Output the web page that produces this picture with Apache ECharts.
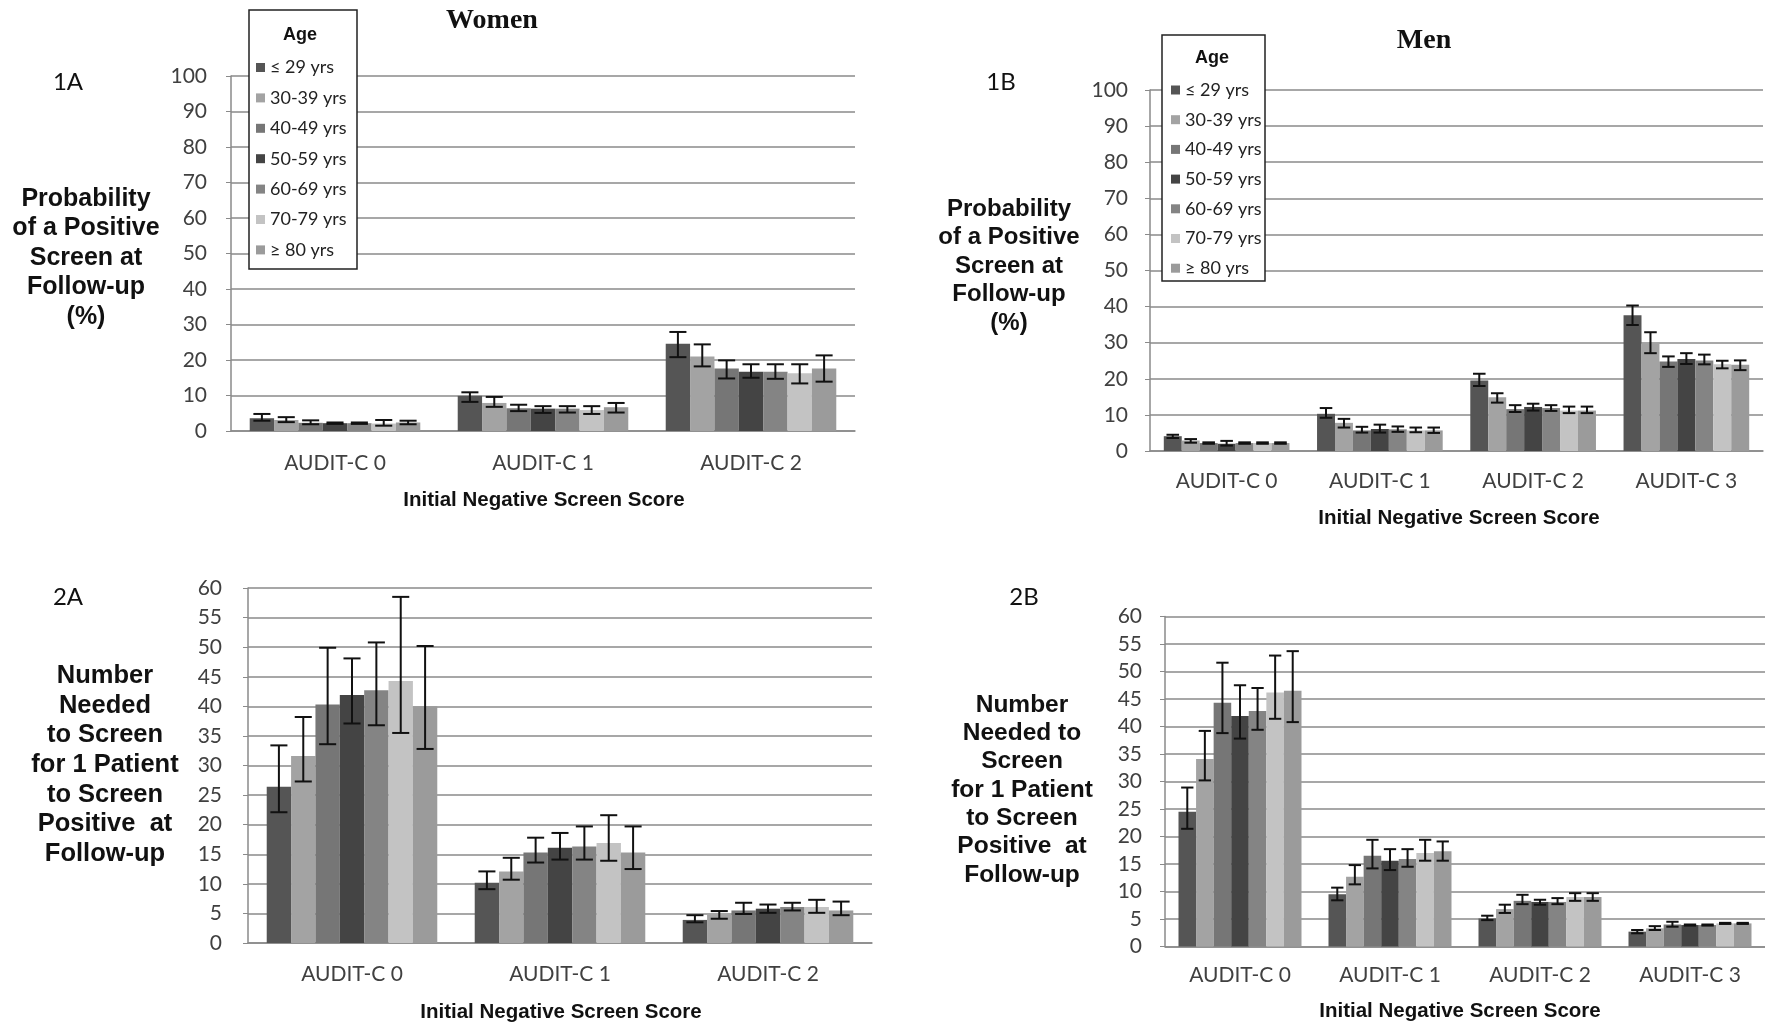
<!DOCTYPE html>
<html><head><meta charset="utf-8">
<script src="https://cdn.jsdelivr.net/npm/echarts@6/dist/echarts.min.js"></script>
<style>html,body{margin:0;padding:0;background:#fff}#c{width:1765px;height:1026px}</style>
</head><body><div id="c"></div><script>
// ---------- DATA ----------
const categoriesWomen = ['AUDIT-C 0', 'AUDIT-C 1', 'AUDIT-C 2'];
const categoriesMen = ['AUDIT-C 0', 'AUDIT-C 1', 'AUDIT-C 2', 'AUDIT-C 3'];
const ageGroups = ['≤ 29 yrs', '30-39 yrs', '40-49 yrs', '50-59 yrs', '60-69 yrs', '70-79 yrs', '≥ 80 yrs'];
const probTicksMax = 100, probTickStep = 10;
const nntTicksMax = 60, nntTickStep = 5;

// 1A Women: probability of positive screen (%), one row per age group
const womenProb = [[3.6, 9.9, 24.6], [3.1, 7.9, 21.0], [2.3, 6.4, 17.6], [2.2, 6.3, 16.7], [2.2, 6.3, 16.7], [2.1, 5.9, 16.3], [2.4, 6.7, 17.6]];
const womenProbLow = [[2.9, 8.2, 20.8], [2.5, 6.8, 18.2], [1.9, 5.6, 14.8], [2.0, 5.1, 15.0], [2.0, 5.2, 14.7], [1.5, 4.8, 13.4], [1.9, 5.2, 13.9]];
const womenProbHigh = [[4.8, 10.9, 27.9], [3.9, 9.6, 24.4], [3.0, 7.4, 19.9], [2.4, 7.0, 18.8], [2.4, 7.0, 18.8], [3.1, 7.0, 18.8], [2.9, 7.9, 21.3]];

// 1B Men: probability of positive screen (%)
const menProb = [[4.1, 10.3, 19.5, 37.6], [2.9, 7.8, 14.9, 30.0], [2.2, 5.7, 11.6, 24.8], [2.0, 6.1, 12.2, 25.5], [2.2, 6.0, 11.9, 25.1], [2.2, 5.7, 11.2, 24.0], [2.2, 5.7, 11.2, 23.9]];
const menProbLow = [[3.6, 9.2, 18.0, 34.9], [2.3, 6.5, 13.4, 27.1], [2.0, 5.1, 10.8, 23.3], [1.5, 5.1, 11.2, 24.1], [2.0, 5.3, 11.1, 24.0], [2.0, 5.2, 10.5, 22.9], [2.0, 5.0, 10.5, 22.4]];
const menProbHigh = [[4.5, 11.9, 21.4, 40.3], [3.3, 8.9, 16.0, 32.9], [2.4, 6.7, 12.7, 26.2], [2.8, 7.3, 13.1, 27.1], [2.4, 6.8, 12.7, 26.7], [2.4, 6.5, 12.3, 25.0], [2.4, 6.5, 12.3, 25.1]];

// 2A Women: number needed to screen
const womenNNT = [[26.4, 10.2, 3.9], [31.6, 12.1, 4.8], [40.3, 15.3, 5.5], [41.9, 16.1, 5.8], [42.7, 16.3, 6.1], [44.3, 16.9, 6.1], [40.0, 15.3, 5.5]];
const womenNNTLow = [[22.1, 9.1, 3.5], [27.3, 10.7, 4.1], [33.6, 13.6, 4.9], [37.1, 14.1, 5.1], [36.8, 14.1, 5.5], [35.5, 13.9, 5.1], [32.8, 12.5, 4.7]];
const womenNNTHigh = [[33.4, 12.1, 4.7], [38.2, 14.4, 5.4], [49.9, 17.8, 6.8], [48.1, 18.6, 6.5], [50.8, 19.7, 6.8], [58.5, 21.6, 7.3], [50.2, 19.7, 7.0]];

// 2B Men: number needed to screen
const menNNT = [[24.5, 9.5, 5.1, 2.7], [34.1, 12.7, 6.8, 3.3], [44.3, 16.5, 8.3, 4.0], [41.9, 15.6, 8.1, 3.9], [42.8, 15.9, 8.1, 3.9], [46.2, 17.0, 9.0, 4.2], [46.5, 17.3, 9.0, 4.2]];
const menNNTLow = [[21.4, 8.4, 4.8, 2.4], [30.2, 11.3, 6.1, 3.0], [38.8, 14.2, 7.7, 3.6], [37.8, 13.9, 7.6, 3.8], [39.4, 14.5, 7.7, 3.8], [41.4, 15.6, 8.3, 4.1], [40.8, 15.6, 8.3, 4.1]];
const menNNTHigh = [[28.9, 10.7, 5.6, 3.0], [39.2, 14.8, 7.6, 3.7], [51.6, 19.4, 9.4, 4.5], [47.5, 17.7, 8.5, 4.0], [47.0, 17.7, 8.8, 4.0], [52.9, 19.4, 9.7, 4.3], [53.7, 19.1, 9.7, 4.3]];

// ---------- STYLE ----------
const barColors = ['#555555', '#a3a3a3', '#767676', '#444444', '#848484', '#c3c3c3', '#9b9b9b'];
const GAP = 0.18;
const gridColor = '#8a8a8a';
const tickFont = 'Lato, "Liberation Sans", sans-serif';
const boldFont = '"Liberation Sans", Arial, sans-serif';

const panels = [
  { cats: categoriesWomen, v: womenProb, lo: womenProbLow, hi: womenProbHigh, max: probTicksMax, step: probTickStep,
    grid: { left: 231, top: 76, width: 624, height: 355 }, labelMargin: 22, yMargin: 24 },
  { cats: categoriesMen, v: menProb, lo: menProbLow, hi: menProbHigh, max: probTicksMax, step: probTickStep,
    grid: { left: 1150, top: 90, width: 613, height: 361 }, labelMargin: 20, yMargin: 22 },
  { cats: categoriesWomen, v: womenNNT, lo: womenNNTLow, hi: womenNNTHigh, max: nntTicksMax, step: nntTickStep,
    grid: { left: 248, top: 588, width: 624, height: 355 }, labelMargin: 21, yMargin: 26 },
  { cats: categoriesMen, v: menNNT, lo: menNNTLow, hi: menNNTHigh, max: nntTicksMax, step: nntTickStep,
    grid: { left: 1165, top: 616.5, width: 605, height: 330 }, labelMargin: 18, yMargin: 23 }
];

const grids = [], xAxes = [], yAxes = [], series = [];
panels.forEach((p, pi) => {
  grids.push(p.grid);
  xAxes.push({
    type: 'category', gridIndex: pi, data: p.cats,
    axisLine: { lineStyle: { color: gridColor, width: 1.5 } },
    axisTick: { show: false },
    axisLabel: { margin: p.labelMargin, fontFamily: tickFont, fontSize: 21, color: '#404040' }
  });
  yAxes.push({
    type: 'value', gridIndex: pi, min: 0, max: p.max, interval: p.step,
    axisLine: { show: true, lineStyle: { color: gridColor, width: 1.5 } },
    axisTick: { show: true, length: 5, lineStyle: { color: gridColor } },
    splitLine: { lineStyle: { color: gridColor, width: 1.5 } },
    axisLabel: { margin: p.yMargin, fontFamily: tickFont, fontSize: 21, color: '#404040' }
  });
  ageGroups.forEach((name, si) => {
    series.push({
      type: 'bar', name, xAxisIndex: pi, yAxisIndex: pi,
      data: p.v[si], barGap: '0%', barCategoryGap: (GAP * 100) + '%',
      itemStyle: { color: barColors[si] }, z: 2, animation: false
    });
  });
  ageGroups.forEach((name, si) => {
    series.push({
      type: 'custom', name, xAxisIndex: pi, yAxisIndex: pi, z: 5, animation: false,
      encode: { x: 0, y: [1, 2] },
      data: p.cats.map((c, ci) => [ci, p.lo[si][ci], p.hi[si][ci]]),
      renderItem: (params, api) => {
        const cat = api.value(0);
        const pLo = api.coord([cat, api.value(1)]);
        const pHi = api.coord([cat, api.value(2)]);
        const band = api.size([1, 0])[0];
        const barW = band * (1 - GAP) / 7;
        const x = pLo[0] + (si - 3) * barW;
        const cap = barW * 0.35;
        const st = { stroke: '#111', lineWidth: 2 };
        return { type: 'group', children: [
          { type: 'line', shape: { x1: x, y1: pLo[1], x2: x, y2: pHi[1] }, style: st },
          { type: 'line', shape: { x1: x - cap, y1: pLo[1], x2: x + cap, y2: pLo[1] }, style: st },
          { type: 'line', shape: { x1: x - cap, y1: pHi[1], x2: x + cap, y2: pHi[1] }, style: st }
        ] };
      }
    });
  });
});

function txt(x, y, text, font, size, weight) {
  return { type: 'text', x, y, z: 30,
    style: { text, fill: '#111', font: weight + ' ' + size + 'px ' + font, align: 'center', verticalAlign: 'middle' } };
}
function mtxt(x, y, text, size, lh) {
  return { type: 'text', x, y, z: 30,
    style: { text, fill: '#111', fontFamily: boldFont, fontWeight: 'bold', fontSize: size, lineHeight: lh, align: 'center', verticalAlign: 'middle' } };
}

const graphics = [
  // legend boxes
  { type: 'rect', z: 10, shape: { x: 249, y: 10, width: 108, height: 259 }, style: { fill: '#fff', stroke: '#222', lineWidth: 1.5 } },
  { type: 'rect', z: 10, shape: { x: 1162, y: 35, width: 103, height: 246 }, style: { fill: '#fff', stroke: '#222', lineWidth: 1.5 } },
  txt(300, 35, 'Age', boldFont, 18, 'bold'),
  txt(1212, 58.5, 'Age', boldFont, 18, 'bold'),
  // panel titles
  txt(492, 21, 'Women', '"Liberation Serif", "Times New Roman", serif', 28, 'bold'),
  txt(1424, 41, 'Men', '"Liberation Serif", "Times New Roman", serif', 28, 'bold'),
  // panel labels
  txt(68, 82, '1A', tickFont, 24, 'normal'),
  txt(1001, 82, '1B', tickFont, 24, 'normal'),
  txt(68, 597, '2A', tickFont, 24, 'normal'),
  txt(1024, 597, '2B', tickFont, 24, 'normal'),
  // y-axis titles
  mtxt(86, 258, 'Probability\nof a Positive\nScreen at\nFollow-up\n(%)', 25, 29.5),
  mtxt(1009, 266, 'Probability\nof a Positive\nScreen at\nFollow-up\n(%)', 24, 28.5),
  mtxt(105, 765, 'Number\nNeeded\nto Screen\nfor 1 Patient\nto Screen\nPositive  at\nFollow-up', 25.5, 29.6),
  mtxt(1022, 790, 'Number\nNeeded to\nScreen\nfor 1 Patient\nto Screen\nPositive  at\nFollow-up', 24.5, 28.3),
  // x-axis titles
  txt(544, 500, 'Initial Negative Screen Score', boldFont, 20.5, 'bold'),
  txt(1459, 518, 'Initial Negative Screen Score', boldFont, 20.5, 'bold'),
  txt(561, 1012, 'Initial Negative Screen Score', boldFont, 20.5, 'bold'),
  txt(1460, 1011, 'Initial Negative Screen Score', boldFont, 20.5, 'bold')
];

const legendCommon = {
  data: ageGroups, orient: 'vertical', icon: 'rect', itemWidth: 9, itemHeight: 9, padding: 0,
  itemGap: 12.4, itemTextGap: 7, selectedMode: false, z: 20,
  textStyle: { fontFamily: tickFont, fontSize: 18, lineHeight: 18, color: '#222' }
};

const chart = echarts.init(document.getElementById('c'), null, { renderer: 'canvas' });
chart.setOption({
  backgroundColor: '#fff',
  animation: false,
  grid: grids, xAxis: xAxes, yAxis: yAxes, series,
  legend: [
    Object.assign({}, legendCommon, { left: 256, top: 58.5 }),
    Object.assign({}, legendCommon, { left: 1171, top: 81, itemGap: 11.7 })
  ],
  graphic: graphics
});
</script></body></html>
